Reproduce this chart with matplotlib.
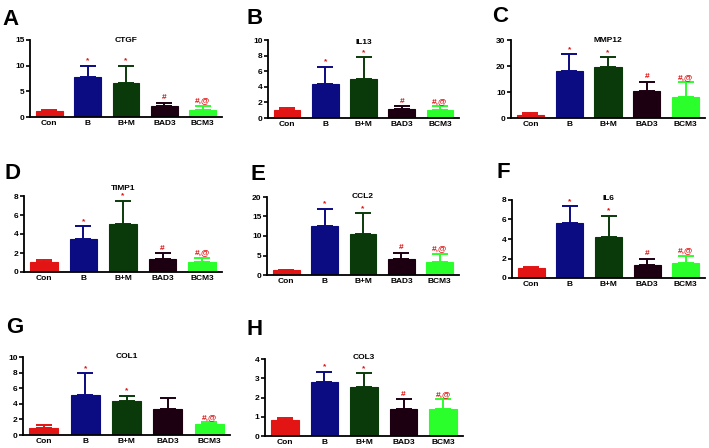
import numpy as np
import matplotlib.pyplot as plt

groups = ["Con", "B", "B+M", "BAD3", "BCM3"]
colors = ["#e31414", "#0b0b82", "#0a3a0a", "#1c0012", "#2bff2b"]

# mean / upper SD
ctgf_mean = [1.1, 7.8, 6.7, 2.1, 1.4]
ctgf_err = [0.2, 2.2, 3.3, 0.7, 0.8]
il13_mean = [1.0, 4.4, 5.0, 1.1, 1.0]
il13_err = [0.25, 2.2, 2.8, 0.45, 0.5]
mmp12_mean = [1.3, 18.2, 19.8, 10.3, 8.2]
mmp12_err = [0.5, 6.3, 3.6, 3.6, 5.6]
timp1_mean = [1.05, 3.45, 5.1, 1.4, 1.1]
timp1_err = [0.2, 1.35, 2.4, 0.55, 0.4]
ccl2_mean = [1.2, 12.6, 10.6, 4.0, 3.4]
ccl2_err = [0.2, 4.3, 5.2, 1.7, 2.0]
il6_mean = [1.05, 5.65, 4.25, 1.35, 1.55]
il6_err = [0.1, 1.7, 2.15, 0.65, 0.75]
col1_mean = [0.95, 5.15, 4.3, 3.3, 1.35]
col1_err = [0.3, 2.75, 0.7, 1.5, 0.3]
col3_mean = [0.85, 2.82, 2.52, 1.42, 1.42]
col3_err = [0.08, 0.53, 0.73, 0.48, 0.48]

sig_default = ["", "*", "*", "#", "#,@"]
sig_col1 = ["", "*", "*", "", "#,@"]

panels = [
    ("A", "CTGF", ctgf_mean, ctgf_err, 15, 5, sig_default),
    ("B", "IL13", il13_mean, il13_err, 10, 2, sig_default),
    ("C", "MMP12", mmp12_mean, mmp12_err, 30, 10, sig_default),
    ("D", "TIMP1", timp1_mean, timp1_err, 8, 2, sig_default),
    ("E", "CCL2", ccl2_mean, ccl2_err, 20, 5, sig_default),
    ("F", "IL6", il6_mean, il6_err, 8, 2, sig_default),
    ("G", "COL1", col1_mean, col1_err, 10, 2, sig_col1),
    ("H", "COL3", col3_mean, col3_err, 4, 1, sig_default),
]

# pixel boxes (left, right, top, bottom), title centre y and letter positions
W, H = 709, 448
boxes = [
    (30, 222, 40, 117), (268, 459, 40, 118), (511, 705, 40, 118),
    (24, 222, 196, 272), (267, 459, 197, 275), (512, 705, 200, 278),
    (23, 230, 357, 435), (265, 463, 359, 436),
]
title_y = [41, 42, 40, 188, 197, 198, 356, 357]
letters = [(2, 25), (246, 24), (492, 22), (4, 179), (251, 180), (496, 178), (6, 333), (247, 335)]

plt.rcParams["font.family"] = ["Liberation Sans", "DejaVu Sans"]
fig = plt.figure(figsize=(W / 100, H / 100), dpi=100)

x = np.arange(len(groups))
for (letter, name, mean, err, ymax, step, sig), (l, r, t, b), ty, (lx, ly) in zip(panels, boxes, title_y, letters):
    ax = fig.add_axes([l / W, 1 - b / H, (r - l) / W, (b - t) / H])
    ax.bar(x, mean, width=0.7, color=colors, edgecolor=colors, linewidth=0.8, zorder=2)
    for xi, m, e, c in zip(x, mean, err, colors):
        ax.errorbar(xi, m, yerr=[[0], [e]], fmt="none", ecolor=c, elinewidth=1.4,
                    capsize=6, capthick=1.4, zorder=1)
    for xi, m, e, s in zip(x, mean, err, sig):
        if s:
            ax.annotate(s, (xi, m + e), xytext=(0, 1.0), textcoords="offset points",
                        ha="center", va="bottom", color="#e01010", fontsize=6, fontweight="bold")
    ax.set_xlim(-0.5, 4.5)
    ax.set_ylim(0, ymax)
    ax.set_yticks(np.arange(0, ymax + step / 2, step))
    ax.set_xticks(x)
    ax.set_xticklabels(groups, fontsize=6, fontweight="bold")
    ax.tick_params(axis="y", labelsize=6, width=1.2, length=3, pad=1)
    ax.tick_params(axis="x", length=0, pad=2)
    for lab in ax.get_yticklabels():
        lab.set_fontweight("bold")
    ax.spines["top"].set_visible(False)
    ax.spines["right"].set_visible(False)
    ax.spines["left"].set_linewidth(1.3)
    ax.spines["bottom"].set_linewidth(1.3)
    fig.text((l + r) / 2 / W, 1 - ty / H, name, ha="center", va="center",
             fontsize=6, fontweight="bold")
    fig.text(lx / W, 1 - ly / H, letter, fontsize=16, fontweight="bold", ha="left", va="baseline")

fig.savefig("out.png", dpi=100)
